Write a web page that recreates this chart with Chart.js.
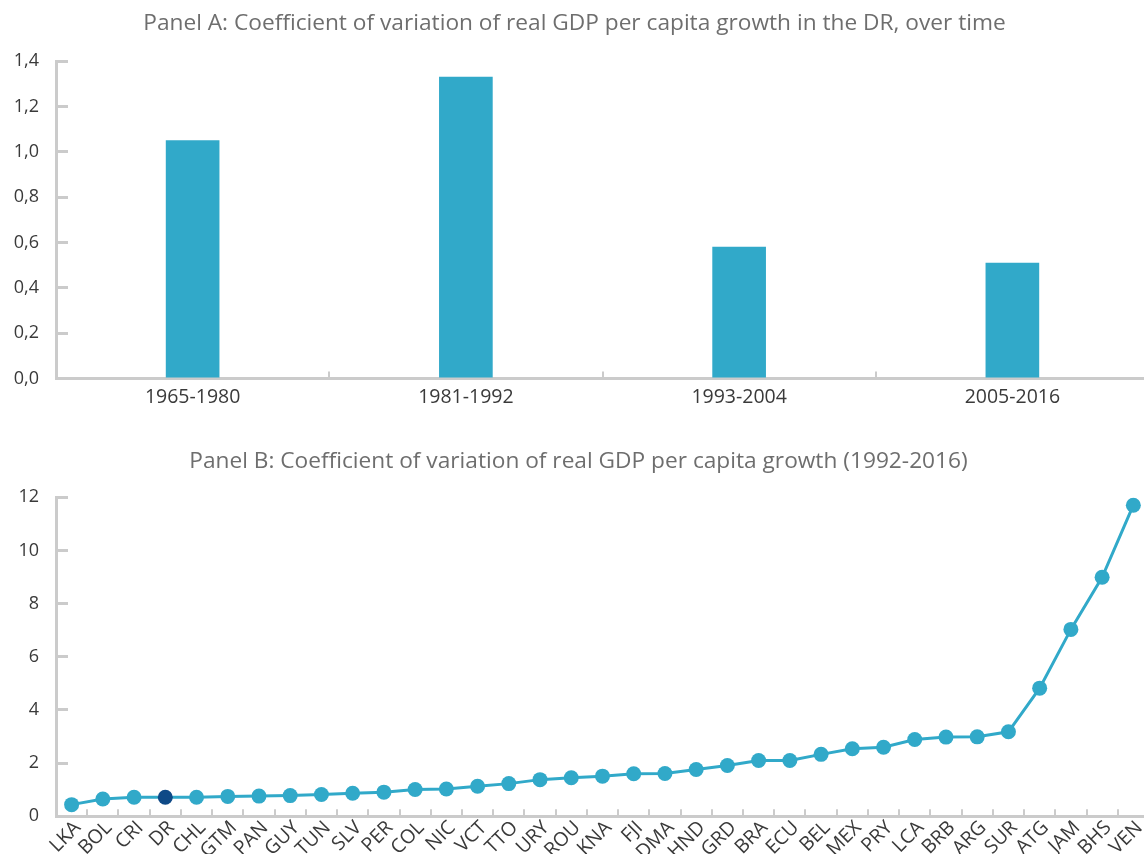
<!DOCTYPE html>
<html>
<head>
<meta charset="utf-8">
<script src="https://cdn.jsdelivr.net/npm/chart.js@4/dist/chart.umd.min.js"></script>
<style>
  html, body { margin: 0; padding: 0; background: #fff; overflow: hidden; width: 1144px; height: 854px; }
  .painel { position: absolute; left: 0; }
  #box-a { top: 0; width: 1149px; height: 423px; }
  #box-b { top: 430px; width: 1157px; height: 441px; }
</style>
</head>
<body>
<div class="painel" id="box-a"><canvas id="grafico-a"></canvas></div>
<div class="painel" id="box-b"><canvas id="grafico-b"></canvas></div>
<script>
// painel A: barras por período
const periodos = ["1965-1980", "1981-1992", "1993-2004", "2005-2016"];
const cvPeriodo = [1.05, 1.33, 0.58, 0.51];

// painel B: países ordenados
const paises = ["LKA", "BOL", "CRI", "DR", "CHL", "GTM", "PAN", "GUY", "TUN", "SLV",
  "PER", "COL", "NIC", "VCT", "TTO", "URY", "ROU", "KNA", "FJI", "DMA", "HND", "GRD",
  "BRA", "ECU", "BEL", "MEX", "PRY", "LCA", "BRB", "ARG", "SUR", "ATG", "JAM", "BHS", "VEN"];
const cvPais = [0.44, 0.65, 0.72, 0.72, 0.72, 0.75, 0.76, 0.78, 0.82, 0.87,
  0.91, 1.01, 1.03, 1.13, 1.23, 1.38, 1.45, 1.51, 1.60, 1.61, 1.76, 1.91,
  2.10, 2.10, 2.33, 2.54, 2.60, 2.89, 2.98, 2.99, 3.18, 4.82, 7.03, 8.99, 11.70];
const destaque = "DR";

const azul = "#31a9c9";
const azulEscuro = "#0f4a87";
const cinzaEixo = "#cbcbcb";
const fonteX = { family: "'Open Sans', sans-serif", size: 19.5 };
const fonteY = { family: "'Open Sans', sans-serif", size: 18 };
const fonteTitulo = { family: "'Open Sans', sans-serif", size: 22.7, weight: "normal" };

Chart.defaults.animation = false;
Chart.defaults.color = "#3a3a3a";

const fixaLargura = (s) => { s.width = 56; };

function eixoY(max, passo, fmt) {
  return {
    min: 0,
    max: max,
    afterFit: fixaLargura,
    grid: { drawOnChartArea: false, tickLength: -12, color: cinzaEixo, lineWidth: 3 },
    border: { color: cinzaEixo, width: 3 },
    ticks: { stepSize: passo, font: fonteY, padding: 29, color: "#3a3a3a", callback: fmt }
  };
}

new Chart(document.getElementById("grafico-a"), {
  type: "bar",
  data: {
    labels: periodos,
    datasets: [{ data: cvPeriodo, backgroundColor: azul, barThickness: 53 }]
  },
  options: {
    responsive: true,
    maintainAspectRatio: false,
    layout: { padding: { left: 0, right: 0, top: 0, bottom: 0 } },
    plugins: {
      legend: { display: false },
      tooltip: { enabled: false },
      title: {
        display: true,
        text: "Panel A: Coefficient of variation of real GDP per capita growth in the DR, over time",
        color: "#6e6e6e",
        font: fonteTitulo,
        padding: { top: 10, bottom: 24 }
      }
    },
    scales: {
      x: {
        grid: { drawOnChartArea: false, offset: true, tickLength: -7, color: cinzaEixo, lineWidth: 2 },
        border: { color: cinzaEixo, width: 3 },
        ticks: { font: fonteX, padding: 14, color: "#3a3a3a" }
      },
      y: eixoY(1.4, 0.2, (v) => v.toFixed(1).replace(".", ","))
    }
  }
});

new Chart(document.getElementById("grafico-b"), {
  type: "line",
  data: {
    labels: paises,
    datasets: [{
      data: cvPais,
      borderColor: azul,
      borderWidth: 3,
      pointRadius: 7.5,
      pointBorderWidth: 0,
      pointBackgroundColor: paises.map((p) => (p === destaque ? azulEscuro : azul)),
      tension: 0
    }]
  },
  options: {
    responsive: true,
    maintainAspectRatio: false,
    layout: { padding: { left: 0, right: 0, top: 0, bottom: 0 } },
    plugins: {
      legend: { display: false },
      tooltip: { enabled: false },
      title: {
        display: true,
        text: "Panel B: Coefficient of variation of real GDP per capita growth (1992-2016)",
        color: "#6e6e6e",
        font: fonteTitulo,
        padding: { top: 18, bottom: 22 }
      }
    },
    scales: {
      x: {
        offset: true,
        grid: { drawOnChartArea: false, offset: true, tickLength: -7, color: cinzaEixo, lineWidth: 2 },
        border: { color: cinzaEixo, width: 3 },
        ticks: {
          font: fonteX, padding: 7, color: "#3a3a3a", labelOffset: 6,
          minRotation: 45, maxRotation: 45, autoSkip: false
        }
      },
      y: eixoY(12, 2)
    }
  }
});
</script>
</body>
</html>
